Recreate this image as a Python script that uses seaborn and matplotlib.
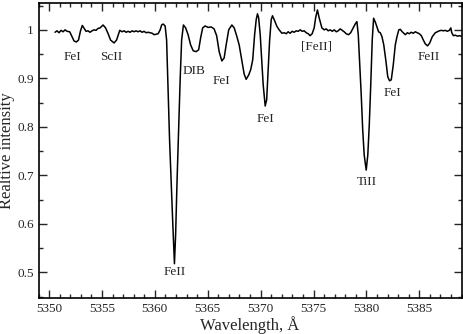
import numpy as np
import pandas as pd
import matplotlib
matplotlib.use("Agg")
from matplotlib import pyplot as plt
from matplotlib.ticker import MultipleLocator, FixedLocator
import seaborn as sns

# Spectrum (wavelength in A, relative intensity)
wavelength = [
    5350.56, 5350.75, 5350.94, 5351.13, 5351.32, 5351.51, 5351.70, 5351.95, 5352.17, 5352.36,
    5352.58, 5352.78, 5352.97, 5353.14, 5353.35, 5353.49, 5353.68, 5353.87, 5354.06, 5354.25,
    5354.44, 5354.63, 5354.82, 5355.10, 5355.34, 5355.58, 5355.81, 5356.14, 5356.38, 5356.68,
    5356.90, 5357.09, 5357.28, 5357.47, 5357.66, 5357.85, 5358.03, 5358.22, 5358.41, 5358.60,
    5358.79, 5358.98, 5359.17, 5359.36, 5359.55, 5359.74, 5359.93, 5360.12, 5360.31, 5360.50,
    5360.64, 5360.78, 5360.97, 5361.11, 5361.25, 5361.39, 5361.53, 5361.68, 5361.85, 5361.96,
    5362.10, 5362.25, 5362.39, 5362.53, 5362.70, 5362.91, 5363.14, 5363.38, 5363.62, 5363.90,
    5364.14, 5364.33, 5364.52, 5364.75, 5365.04, 5365.32, 5365.60, 5365.84, 5366.08, 5366.33,
    5366.55, 5366.74, 5366.98, 5367.28, 5367.50, 5367.73, 5367.97, 5368.21, 5368.44, 5368.63,
    5368.87, 5369.06, 5369.25, 5369.43, 5369.58, 5369.70, 5369.81, 5369.96, 5370.10, 5370.24,
    5370.43, 5370.57, 5370.71, 5370.85, 5371.00, 5371.12, 5371.28, 5371.54, 5371.75, 5372.01,
    5372.23, 5372.42, 5372.60, 5372.79, 5372.98, 5373.17, 5373.36, 5373.55, 5373.74, 5373.93,
    5374.12, 5374.31, 5374.50, 5374.68, 5374.87, 5375.06, 5375.20, 5375.37, 5375.53, 5375.79,
    5376.01, 5376.20, 5376.39, 5376.58, 5376.77, 5376.96, 5377.15, 5377.33, 5377.52, 5377.71,
    5377.90, 5378.09, 5378.31, 5378.51, 5378.75, 5378.94, 5379.10, 5379.23, 5379.37, 5379.51,
    5379.65, 5379.79, 5379.98, 5380.13, 5380.27, 5380.41, 5380.55, 5380.68, 5380.84, 5381.03,
    5381.15, 5381.31, 5381.47, 5381.64, 5381.83, 5382.02, 5382.19, 5382.35, 5382.54, 5382.73,
    5382.89, 5383.06, 5383.20, 5383.39, 5383.68, 5383.87, 5384.05, 5384.24, 5384.43, 5384.62,
    5384.81, 5385.00, 5385.19, 5385.38, 5385.57, 5385.78, 5385.99, 5386.23, 5386.51, 5386.70,
    5386.89, 5387.08, 5387.27, 5387.46, 5387.65, 5387.84, 5387.98, 5388.07, 5388.22, 5388.41,
    5388.60, 5388.79, 5389.07,
]
intensity = [
    0.995, 0.998, 0.994, 0.999, 0.996, 1.000, 0.997, 0.996, 0.986, 0.977,
    0.975, 0.979, 0.998, 1.009, 1.002, 0.997, 0.998, 0.995, 0.998, 1.000,
    0.999, 1.003, 1.004, 1.010, 1.004, 0.992, 0.979, 0.973, 0.979, 0.999,
    0.996, 0.998, 0.995, 0.997, 0.995, 0.998, 0.996, 0.998, 0.996, 0.998,
    0.995, 0.997, 0.994, 0.995, 0.994, 0.993, 0.990, 0.991, 0.992, 1.000,
    1.010, 1.012, 1.008, 0.979, 0.876, 0.773, 0.691, 0.608, 0.518, 0.577,
    0.691, 0.794, 0.897, 0.979, 1.010, 1.004, 0.990, 0.969, 0.957, 0.955,
    0.959, 0.984, 1.004, 1.008, 1.005, 1.006, 1.002, 0.988, 0.955, 0.936,
    0.942, 0.969, 1.000, 1.010, 1.004, 0.988, 0.969, 0.938, 0.909, 0.898,
    0.907, 0.918, 0.938, 0.990, 1.021, 1.033, 1.025, 0.990, 0.938, 0.887,
    0.843, 0.856, 0.918, 0.979, 1.021, 1.029, 1.021, 1.007, 1.000, 0.993,
    0.994, 0.992, 0.996, 0.993, 0.997, 0.995, 0.998, 0.997, 1.000, 0.997,
    0.998, 0.994, 0.992, 0.988, 0.992, 1.004, 1.025, 1.041, 1.025, 1.004,
    1.000, 1.002, 0.998, 1.000, 0.997, 1.000, 0.996, 0.998, 1.002, 0.999,
    0.996, 0.992, 0.990, 0.994, 1.004, 1.012, 1.017, 0.990, 0.928, 0.866,
    0.794, 0.742, 0.711, 0.742, 0.804, 0.887, 0.979, 1.024, 1.016, 1.004,
    0.996, 0.994, 0.986, 0.969, 0.938, 0.903, 0.895, 0.897, 0.928, 0.969,
    0.986, 1.000, 1.001, 0.996, 0.990, 0.994, 0.992, 0.995, 0.993, 0.996,
    0.994, 0.992, 0.988, 0.979, 0.971, 0.967, 0.973, 0.986, 0.994, 0.996,
    0.998, 0.999, 0.998, 0.999, 0.997, 0.999, 1.004, 0.994, 0.988, 0.989,
    0.987, 0.988, 0.986,
]

# Line identifications
line_names = ["FeI", "ScII", "FeII", "DIB", "FeI", "FeI", "[FeII]", "TiII", "FeI", "FeII"]
label_wl = [5352.17, 5355.86, 5361.91, 5363.71, 5366.27, 5370.48, 5375.25, 5380.08, 5382.49, 5385.85]
label_int = [0.944, 0.944, 0.500, 0.915, 0.895, 0.816, 0.966, 0.687, 0.869, 0.944]

spec_df = pd.DataFrame({"wl": wavelength, "I": intensity})

sns.set_style("ticks")
plt.rcParams["font.family"] = ["Liberation Serif", "DejaVu Serif"]

fig = plt.figure(figsize=(4.63, 3.34), dpi=100)
ax = fig.add_axes([0.0832, 0.1087, 0.9138, 0.8833])

sns.lineplot(x="wl", y="I", data=spec_df, sort=False, color="black", linewidth=1.1, ax=ax)

for name, x, y in zip(line_names, label_wl, label_int):
    ax.text(x, y, name, ha="center", va="center", fontsize=9.5)

ax.set_xlim(5349, 5389)
ax.set_ylim(0.448, 1.056)
ax.xaxis.set_major_locator(MultipleLocator(5))
ax.xaxis.set_minor_locator(MultipleLocator(1))
ax.yaxis.set_major_locator(FixedLocator([0.5, 0.6, 0.7, 0.8, 0.9, 1.0]))
ax.set_yticklabels(["0.5", "0.6", "0.7", "0.8", "0.9", "1"])
ax.yaxis.set_minor_locator(MultipleLocator(0.05))

ax.tick_params(which="both", direction="in", top=True, right=True, labelsize=9.5, width=1)
ax.tick_params(which="major", length=6)
ax.tick_params(which="minor", length=3)
for sp in ax.spines.values():
    sp.set_linewidth(1.2)
    sp.set_color("black")

ax.set_xlabel("Wavelength, Å", fontsize=12)
ax.set_ylabel("Realtive intensity", fontsize=12)
ax.xaxis.set_label_coords(0.5, -0.062)
ax.yaxis.set_label_coords(-0.056, 0.5)

fig.savefig("out.png", dpi=100)
